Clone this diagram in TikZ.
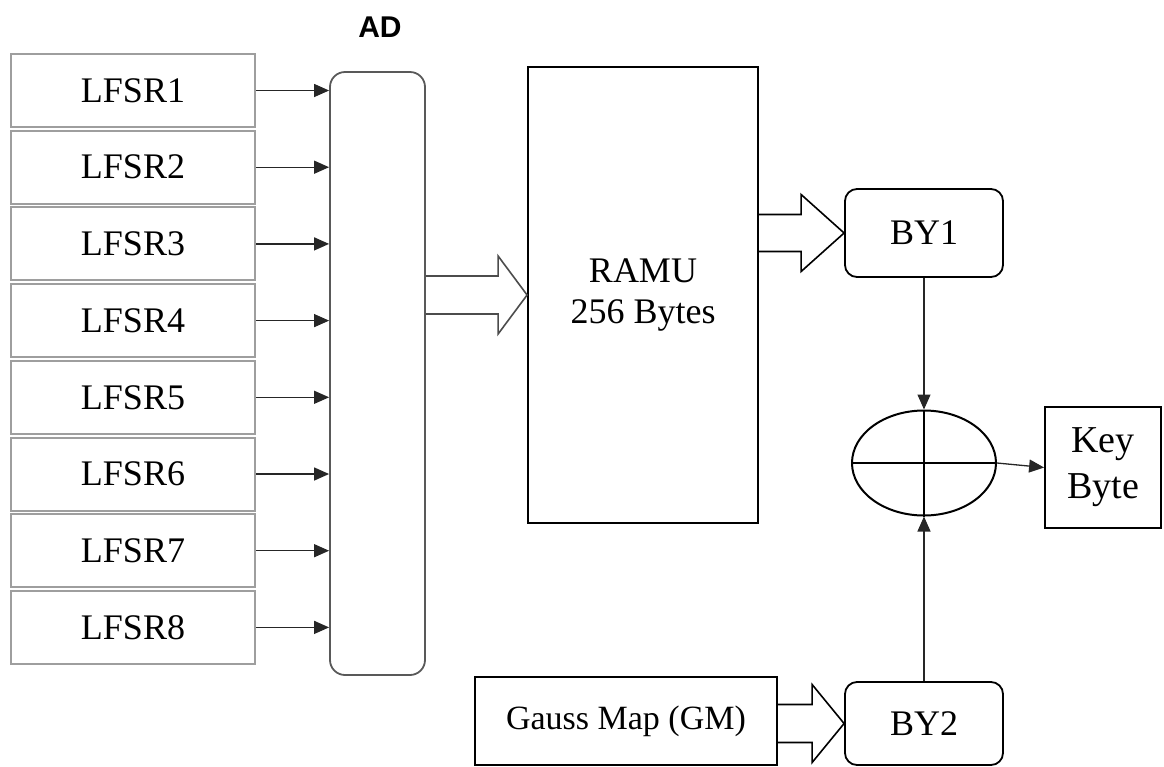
\documentclass[tikz,border=0pt]{standalone}
\usepackage{fontspec}
\setmainfont{Liberation Serif}
\newfontfamily\labelsans{Liberation Sans}
\usetikzlibrary{arrows.meta,shapes.geometric,calc}

% hollow block arrow: #2 tail point, #3 tip point, #4 shaft half width,
% #5 head half width, #6 head length (all in picture units)
\newcommand\hollowarrow[6][]{%
  \draw[blockarrow,#1] ($(#2)+(0,-#4)$) -- ($(#3)+(-#6,-#4)$) -- ($(#3)+(-#6,-#5)$)
    -- (#3) -- ($(#3)+(-#6,#5)$) -- ($(#3)+(-#6,#4)$) -- ($(#2)+(0,#4)$);}

\tikzset{
  txt/.style={font=\fontsize{18}{20.5}\selectfont, inner sep=0pt},
  lfsrbox/.style={txt, draw=black!38, line width=1pt, minimum width=122pt, minimum height=36.5pt},
  plainbox/.style={txt, draw=black, line width=0.9pt},
  roundbox/.style={plainbox, rounded corners=6pt, minimum width=79pt},
  thinarrow/.style={draw=black!85, line width=0.65pt, -{Triangle[length=7.5pt,width=6.5pt]}},
  blockarrow/.style={draw=black, line width=0.8pt, line join=miter},
}

\begin{document}
\begin{tikzpicture}[x=0.5pt, y=-0.5pt]
  \useasboundingbox (0,0) rectangle (1164,767);

  % shift registers
  \foreach \i in {1,...,8} {
    \node[lfsrbox] (l\i) at (133, {90.5 + 76.7*(\i-1)}) {LFSR\i};
  }

  % address decoder
  \node[draw=black!65, line width=0.9pt, rounded corners=7.5pt,
        minimum width=47.5pt, minimum height=301.5pt, inner sep=0pt] (ad) at (377.5,373.5) {};
  \node[font=\labelsans\bfseries\fontsize{15}{17}\selectfont, inner sep=0pt] (adlabel) at (380,27) {AD};

  \foreach \i in {1,...,8} {
    \draw[thinarrow] (l\i.east) -- (l\i.east -| ad.west);
  }

  % memory
  \node[plainbox, minimum width=115pt, minimum height=228pt, align=center] (ramu) at (643,295)
    {RAMU\\256 Bytes};

  % byte registers
  \node[roundbox, minimum height=44pt] (by1) at (924,233) {BY1};
  \node[roundbox, minimum height=41.5pt] (by2) at (924,723.5) {BY2};

  % Gauss map source
  \node[plainbox, font=\fontsize{17}{20}\selectfont, minimum width=151pt, minimum height=44pt] (gm) at (626,721)
    {Gauss Map (GM)};

  % XOR combiner
  \node[ellipse, draw=black, line width=1pt, minimum width=72pt, minimum height=52.5pt, inner sep=0pt] (xor) at (924,463) {};
  \draw[line width=1pt] (xor.north) -- (xor.south);
  \draw[line width=1pt] (xor.west) -- (xor.east);

  % output
  \node[plainbox, font=\fontsize{19}{23}\selectfont, align=center, minimum width=58pt, minimum height=60.5pt] (key) at (1103,467.5)
    {Key\\Byte};

  % block arrows
  \coordinate (adout) at (ad.east |- ramu.west);
  \hollowarrow[draw=black!70]{adout}{ramu.west}{19}{39}{29}
  \coordinate (ramuout) at (ramu.east |- by1.west);
  \hollowarrow{ramuout}{by1.west}{18.5}{38.5}{43}
  \coordinate (gmout) at (gm.east |- by2.west);
  \hollowarrow{gmout}{by2.west}{19}{39}{32}

  % connectors to and from the XOR
  \draw[thinarrow] (by1.south) -- (xor.north);
  \draw[thinarrow] (by2.north) -- (xor.south);
  \draw[thinarrow] (xor.east) -- (key.west);
\end{tikzpicture}
\end{document}
